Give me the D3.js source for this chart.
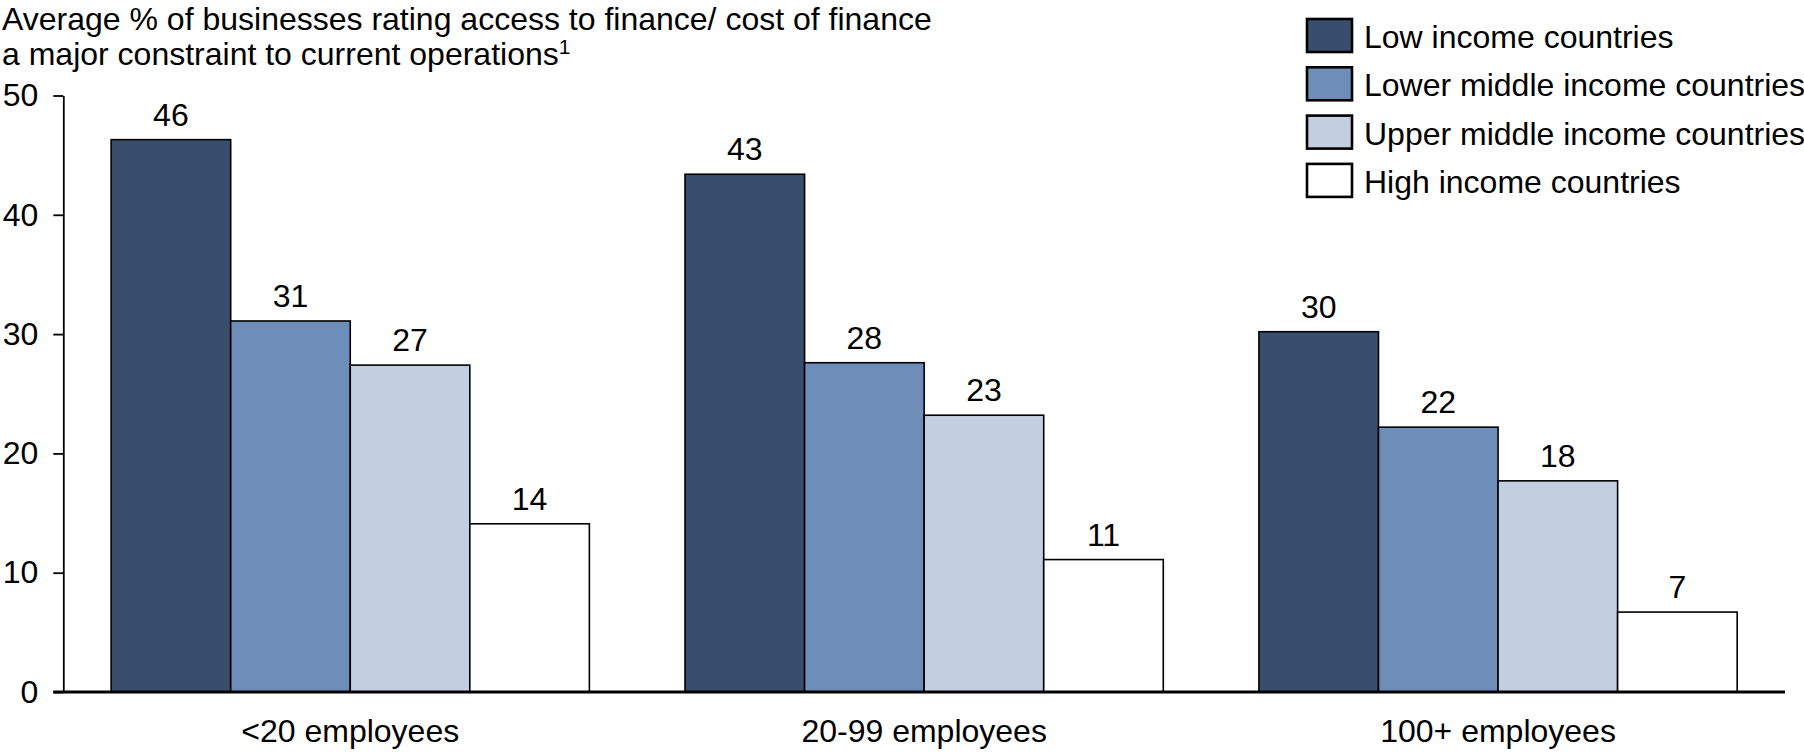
<!DOCTYPE html>
<html>
<head>
<meta charset="utf-8">
<script src="https://cdn.jsdelivr.net/npm/d3@7"></script>
<style>
  html, body { margin: 0; padding: 0; background: #fff; }
  svg { display: block; font-family: "Liberation Sans", Arial, sans-serif; }
</style>
</head>
<body>
<svg id="chart" width="1804" height="756"></svg>
<script>
// Firm-size groups along the x axis
const categories = ["<20 employees", "20-99 employees", "100+ employees"];
// Country income groups (one bar each per firm-size group)
const seriesNames = [
  "Low income countries",
  "Lower middle income countries",
  "Upper middle income countries",
  "High income countries"
];
// % of businesses rating finance a major constraint, per firm-size group
const lowIncome   = [46.3, 43.4, 30.2];
const lowerMiddle = [31.1, 27.6, 22.2];
const upperMiddle = [27.4, 23.2, 17.7];
const highIncome  = [14.1, 11.1, 6.7];
const yTicks = [0, 10, 20, 30, 40, 50];
const seriesColors = ["#394e6d", "#6e8db8", "#c3cee0", "#ffffff"];

const seriesValues = [lowIncome, lowerMiddle, upperMiddle, highIncome];
const rows = categories.map((c, i) => ({
  category: c,
  values: seriesNames.map((s, j) => ({ series: s, value: seriesValues[j][i], color: seriesColors[j] }))
}));

const svg = d3.select("#chart");
const FONT = 32;

const y = d3.scaleLinear().domain([0, 50]).range([692, 95.5]);
const x0 = d3.scaleBand().domain(categories).range([63.3, 1785])
  .paddingInner(1 / 6).paddingOuter(1 / 12);
const x1 = d3.scaleBand().domain(seriesNames).range([0, x0.bandwidth()]);
const fmt = d3.format(".0f");

// Title (two lines, with footnote marker)
const title = svg.append("text").attr("x", 2).attr("font-size", FONT).attr("fill", "#000");
title.append("tspan").attr("x", 2).attr("y", 30)
  .text("Average % of businesses rating access to finance/ cost of finance");
title.append("tspan").attr("x", 2).attr("y", 65)
  .text("a major constraint to current operations");
title.append("tspan").attr("font-size", 21).attr("dy", -11).text("1");

// Bars
const groups = svg.append("g").selectAll("g").data(rows).join("g")
  .attr("transform", d => `translate(${x0(d.category)},0)`);

groups.selectAll("rect").data(d => d.values).join("rect")
  .attr("x", d => x1(d.series))
  .attr("y", d => y(d.value))
  .attr("width", x1.bandwidth())
  .attr("height", d => y(0) - y(d.value))
  .attr("fill", d => d.color)
  .attr("stroke", "#000")
  .attr("stroke-width", 1.6);

// Value labels above bars
groups.selectAll("text.val").data(d => d.values).join("text")
  .attr("class", "val")
  .attr("x", d => x1(d.series) + x1.bandwidth() / 2)
  .attr("y", d => y(d.value) - 14)
  .attr("text-anchor", "middle")
  .attr("font-size", FONT)
  .attr("fill", "#000")
  .text(d => fmt(d.value));

// Y axis
const yAxis = svg.append("g")
  .attr("transform", `translate(${x0.range()[0]},0)`)
  .call(d3.axisLeft(y).tickValues(yTicks).tickSize(10).tickSizeOuter(0).tickPadding(15));
yAxis.selectAll("text").attr("font-size", FONT).attr("font-family", "Liberation Sans, Arial, sans-serif").attr("fill", "#000");
yAxis.selectAll("line").attr("stroke", "#000").attr("stroke-width", 1.8);
yAxis.select(".domain").attr("stroke", "#000").attr("stroke-width", 1.8);

// Baseline
svg.append("line")
  .attr("x1", x0.range()[0] - 10).attr("x2", x0.range()[1])
  .attr("y1", y(0)).attr("y2", y(0))
  .attr("stroke", "#000").attr("stroke-width", 3);

// Category labels
svg.append("g").selectAll("text").data(categories).join("text")
  .attr("x", d => x0(d) + x0.bandwidth() / 2)
  .attr("y", 742)
  .attr("text-anchor", "middle")
  .attr("font-size", FONT)
  .attr("fill", "#000")
  .text(d => d);

// Legend
const legend = svg.append("g").attr("transform", "translate(1307,0)");
const items = legend.selectAll("g").data(seriesNames).join("g")
  .attr("transform", (d, i) => `translate(0,${19 + i * 48.3})`);
items.append("rect")
  .attr("x", 0).attr("y", 0).attr("width", 45).attr("height", 33)
  .attr("fill", (d, i) => seriesColors[i])
  .attr("stroke", "#000").attr("stroke-width", 2.6);
items.append("text")
  .attr("x", 57).attr("y", 29)
  .attr("font-size", FONT)
  .attr("fill", "#000")
  .text(d => d);
</script>
</body>
</html>
